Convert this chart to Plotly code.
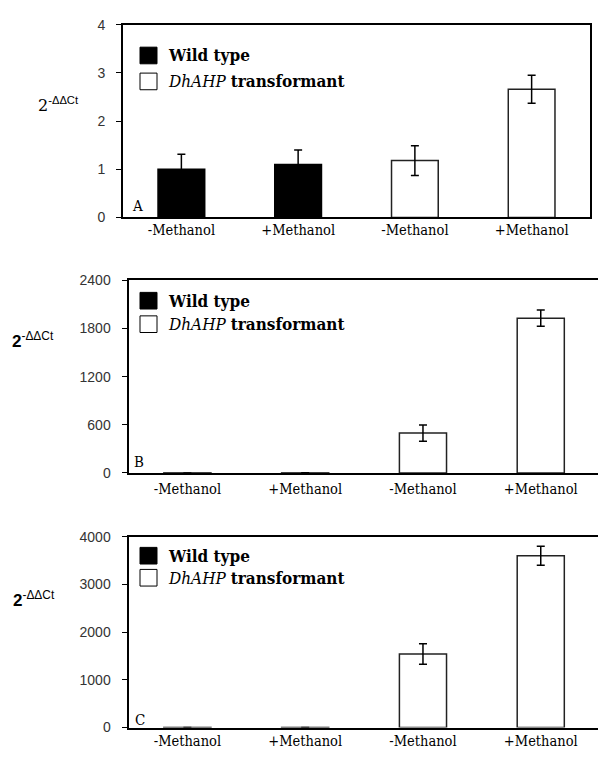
import plotly.graph_objects as go

# ---------------- data ----------------
categories = ["-Methanol", "+Methanol", "-Methanol", "+Methanol"]
series_names = ["Wild type", "<i>DhAHP</i> <b>transformant</b>"]
panel_letters = ["A", "B", "C"]

wt_pos = [0, 1]
tr_pos = [2, 3]

# Panel A
a_wt = [1.0, 1.1]
a_wt_err = [0.31, 0.30]
a_tr = [1.18, 2.66]
a_tr_err = [0.31, 0.29]

# Panel B
b_wt = [1.0, 1.1]
b_wt_err = [0.3, 0.3]
b_tr = [497, 1930]
b_tr_err = [100, 100]

# Panel C
c_wt = [1.0, 1.1]
c_wt_err = [0.3, 0.3]
c_tr = [1540, 3600]
c_tr_err = [215, 200]

y_ranges = [[0, 4], [0, 2400], [0, 4000]]
y_dticks = [1, 600, 1000]

# ---------------- layout helpers ----------------
W, H = 598, 759


def fx(px):
    return px / W


def fy(py):
    return 1 - py / H


SERIF = "DejaVu Serif Condensed"
SANS = "Liberation Sans"

panels = [
    dict(left=123, right=590, top=17, bottom=214, xr=[-0.5, 3.5], mirror_y=True, standoff=-2),
    dict(left=128.5, right=598, top=278.3, bottom=475, xr=[-0.5, 3.486], mirror_y=False, standoff=2),
    dict(left=128.5, right=598, top=540, bottom=735, xr=[-0.5, 3.486], mirror_y=False, standoff=-1),
]

data_sets = [
    (a_wt, a_wt_err, a_tr, a_tr_err),
    (b_wt, b_wt_err, b_tr, b_tr_err),
    (c_wt, c_wt_err, c_tr, c_tr_err),
]

fig = go.Figure()
for i, (wt, wte, tr, tre) in enumerate(data_sets):
    sfx = "" if i == 0 else str(i + 1)
    fig.add_trace(go.Bar(
        x=wt_pos, y=wt, width=0.4, name="Wild type",
        marker=dict(color="#000000", line=dict(color="#000000", width=1.5)),
        error_y=dict(type="data", array=wte, color="#000000", thickness=1.5, width=4),
        xaxis="x" + sfx, yaxis="y" + sfx, showlegend=False,
    ))
    fig.add_trace(go.Bar(
        x=tr_pos, y=tr, width=0.4, name="DhAHP transformant",
        marker=dict(color="#ffffff", line=dict(color="#222222", width=1.5)),
        error_y=dict(type="data", array=tre, color="#000000", thickness=1.5, width=4),
        xaxis="x" + sfx, yaxis="y" + sfx, showlegend=False,
    ))

layout = dict(
    width=W, height=H, margin=dict(l=0, r=0, t=0, b=0),
    paper_bgcolor="white", plot_bgcolor="white",
    barmode="overlay", showlegend=False,
)

shapes = []
annotations = []

legend_rows = [(48.5, 75), (299, 323), (559.5, 582)]
title_pos = [(36, 99), (10, 339), (11, 604)]
letter_pos = [(130, 202), (131.5, 464), (133, 727.5)]

for i, p in enumerate(panels):
    sfx = "" if i == 0 else str(i + 1)
    layout["xaxis" + sfx] = dict(
        domain=[fx(p["left"]), min(1.0, fx(p["right"]))],
        range=p["xr"], anchor="y" + sfx,
        tickvals=[0, 1, 2, 3], ticktext=categories,
        tickfont=dict(family=SERIF, size=14.5, color="#000000"),
        showline=True, linecolor="#000000", linewidth=2, mirror=True,
        ticks="", showgrid=False, zeroline=False, ticklabelstandoff=p["standoff"],
    )
    layout["yaxis" + sfx] = dict(
        domain=[fy(p["bottom"]), fy(p["top"])],
        range=y_ranges[i], dtick=y_dticks[i], anchor="x" + sfx,
        tickfont=dict(family=SANS, size=14, color="#333333"),
        showline=True, linecolor="#000000", linewidth=2, mirror=p["mirror_y"],
        ticks="outside", ticklen=5, tickwidth=1, tickcolor="#000000",
        showgrid=False, zeroline=False, ticklabelstandoff=8,
    )

    r1, r2 = legend_rows[i]
    sq = 17
    for (cy, fill, name) in [(r1, "#000000", series_names[0]), (r2, "#ffffff", series_names[1])]:
        shapes.append(dict(
            type="rect", xref="paper", yref="paper",
            x0=fx(140), x1=fx(140 + sq), y0=fy(cy + sq / 2), y1=fy(cy - sq / 2),
            fillcolor=fill, line=dict(color="#000000", width=1),
        ))
        label = "<b>" + name + "</b>" if fill == "#000000" else name
        annotations.append(dict(
            xref="paper", yref="paper", x=fx(166), y=fy(cy),
            xanchor="left", yanchor="middle", showarrow=False,
            text=label, font=dict(family=SERIF, size=17, color="#000000"),
        ))

    lx, ly = letter_pos[i]
    annotations.append(dict(
        xref="paper", yref="paper", x=fx(lx), y=fy(ly),
        xanchor="left", yanchor="middle", showarrow=False,
        text=panel_letters[i], font=dict(family=SERIF, size=15, color="#000000"),
    ))

    tx, ty = title_pos[i]
    if i == 0:
        ttext = "2<sup><span style=\"font-family:'Liberation Sans'\">-ΔΔCt</span></sup>"
        tfont = dict(family="DejaVu Serif", size=16, color="#000000")
    else:
        ttext = "<b>2</b><sup>-ΔΔCt</sup>"
        tfont = dict(family=SANS, size=17, color="#000000")
    annotations.append(dict(
        xref="paper", yref="paper", x=fx(tx), y=fy(ty),
        xanchor="left", yanchor="middle", showarrow=False,
        text=ttext, font=tfont,
    ))

layout["shapes"] = shapes
layout["annotations"] = annotations
fig.update_layout(**layout)
fig.write_html("out.html")
